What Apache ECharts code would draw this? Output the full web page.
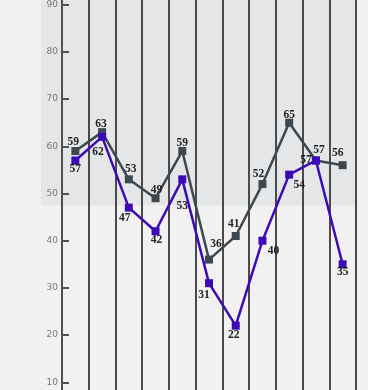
<!DOCTYPE html>
<html>
<head>
<meta charset="utf-8">
<script src="https://cdn.jsdelivr.net/npm/echarts@6/dist/echarts.min.js"></script>
<style>
  html, body { margin: 0; padding: 0; background: #f1f1f1; overflow: hidden; width: 368px; height: 390px; }
  #chart { position: absolute; left: 0; top: -47px; width: 368px; height: 481px; }
</style>
</head>
<body>
<div id="chart"></div>
<script>
// ---- data ----
const categories = ['1', '2', '3', '4', '5', '6', '7', '8', '9', '10', '11'];
const seriesA = [59, 63, 53, 49, 59, 36, 41, 52, 65, 57, 56];
const seriesB = [57, 62, 47, 42, 53, 31, 22, 40, 54, 57, 35];
const bandFrom = 47.5;

// ---- label placement (style, not data) ----
const offsetsA = [[-2,-9],[-1,-8],[2,-10],[1,-8],[0,-8],[7,-16],[-2,-12],[-4,-10],[0,-8],[3,-10],[-5,-12]];
const offsetsB = [[0,9],[-4,15],[-4,10],[1,9],[0,27],[-5,12],[-2,9],[11,10],[10,10],[-10,0],[0,8]];

const labelStyle = {
  fontFamily: 'Liberation Serif',
  fontWeight: 'bold',
  fontSize: 11.5,
  color: '#222'
};

function build(values, offsets) {
  return values.map((v, i) => ({
    value: v,
    label: Object.assign({ show: true, position: 'inside', offset: offsets[i] }, labelStyle)
  }));
}

const chart = echarts.init(document.getElementById('chart'), null, { renderer: 'canvas' });
chart.setOption({
  backgroundColor: '#f1f1f1',
  animation: false,
  grid: { left: 62, right: 12, top: 0, bottom: 0, containLabel: false },
  xAxis: {
    type: 'category',
    data: categories,
    boundaryGap: true,
    axisLine: { show: false },
    axisTick: { show: false },
    axisLabel: { show: false },
    splitLine: { show: true, lineStyle: { color: '#4a4a4a', width: 2 } }
  },
  yAxis: {
    type: 'value',
    min: 0, max: 100, interval: 10,
    axisLine: { show: true, lineStyle: { color: '#505050', width: 2 } },
    axisTick: { show: true, inside: true, length: 7, lineStyle: { color: '#505050', width: 2 } },
    axisLabel: { color: '#7a7570', fontSize: 9, fontFamily: 'DejaVu Sans', margin: 4 },
    splitLine: { show: false }
  },
  series: [
    {
      type: 'line',
      data: build(seriesA, offsetsA),
      symbol: 'rect', symbolSize: 8,
      lineStyle: { color: '#3e494f', width: 2.5 },
      itemStyle: { color: '#3e494f' },
      z: 3
    },
    {
      type: 'line',
      data: build(seriesB, offsetsB),
      symbol: 'rect', symbolSize: 8,
      lineStyle: { color: '#3d0bb6', width: 2.5 },
      itemStyle: { color: '#3d0bb6' },
      z: 4
    }
  ]
});

// shaded band behind the upper part of the chart
const yBand = chart.convertToPixel({ yAxisIndex: 0 }, bandFrom);
const c0 = chart.convertToPixel({ xAxisIndex: 0 }, 0);
const cN = chart.convertToPixel({ xAxisIndex: 0 }, categories.length - 1);
const bw = (cN - c0) / (categories.length - 1);
const rightEdge = cN + bw / 2;
chart.setOption({
  graphic: [{
    type: 'rect',
    z: -10,
    silent: true,
    shape: { x: 41, y: 0, width: rightEdge - 41, height: yBand },
    style: { fill: '#e5e6e8' }
  }]
});
</script>
</body>
</html>
